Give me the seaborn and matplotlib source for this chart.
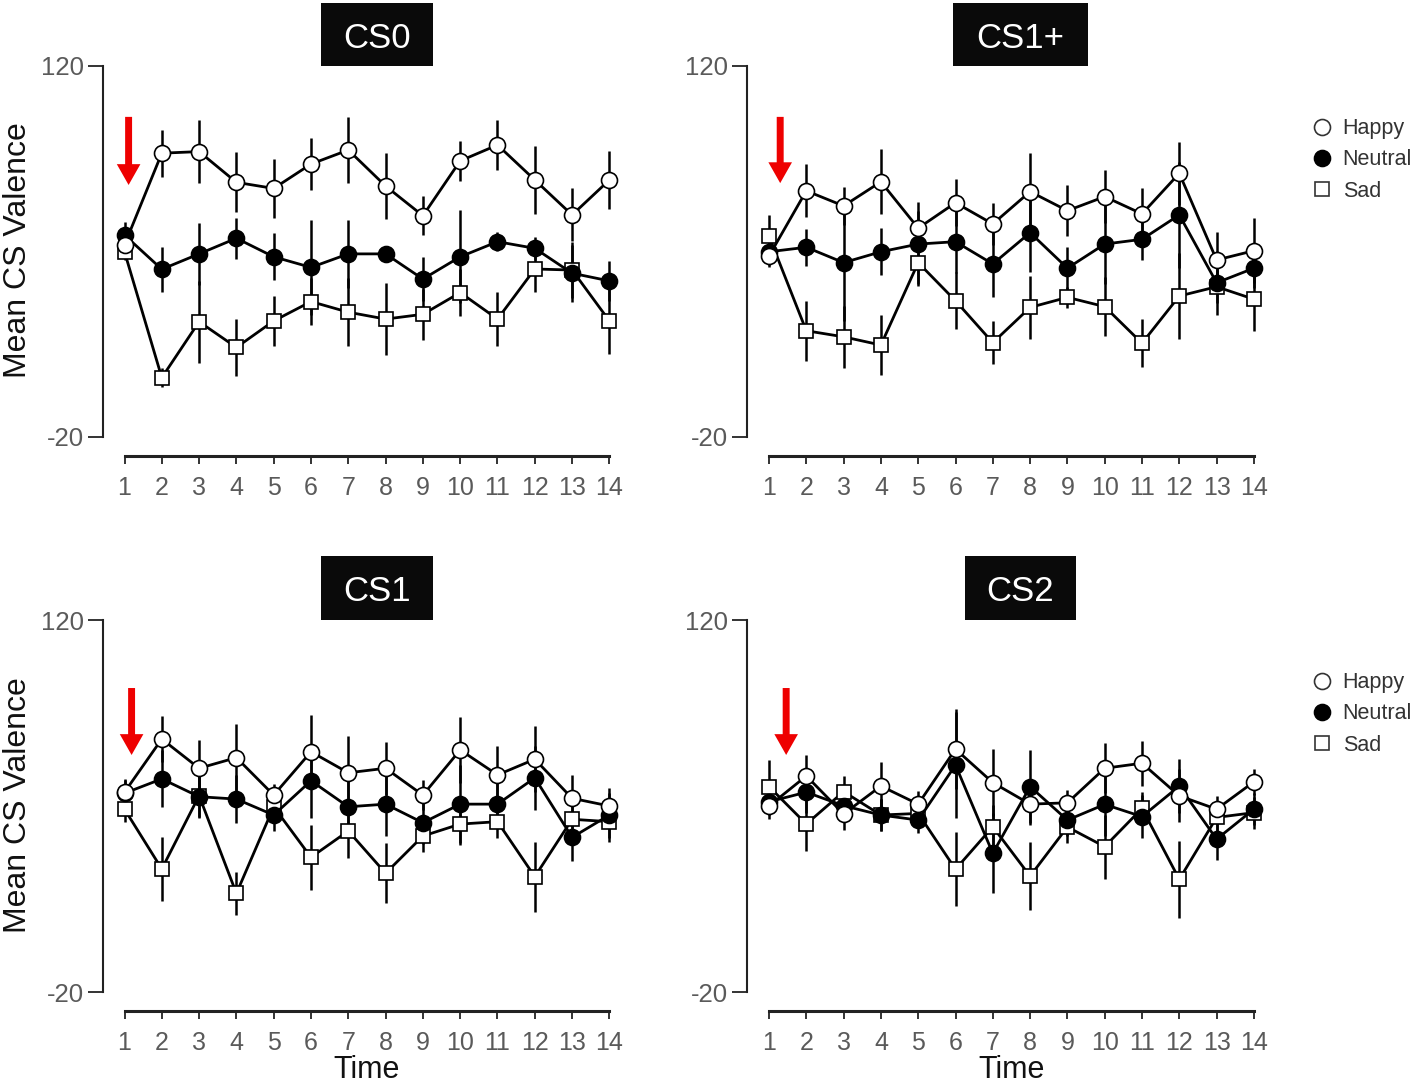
import numpy as np
import pandas as pd
import matplotlib
matplotlib.use("Agg")
import matplotlib.pyplot as plt
from matplotlib.patches import Rectangle
from matplotlib.lines import Line2D
import seaborn as sns

# ---------------- data ----------------
time_points = list(range(1, 15))
panel_titles = ["CS0", "CS1+", "CS1", "CS2"]
series_names = ["Happy", "Neutral", "Sad"]
y_tick_values = [-20, 120]

happy_cs0 = [52.5, 87.1, 87.7, 76.1, 73.8, 83.0, 88.3, 74.7, 63.5, 84.2, 90.2, 77.0, 63.8, 77.0]
happy_cs0_err = [3, 8.8, 11.8, 11.3, 11.1, 9.8, 12.5, 12.6, 7.3, 7.5, 9.3, 12.8, 10, 11]
neutral_cs0 = [56.2, 43.3, 49.1, 55.0, 48.0, 44.0, 49.1, 49.1, 39.6, 48.0, 53.7, 51.2, 41.8, 38.9]
neutral_cs0_err = [5, 8.5, 11.6, 7.7, 8.8, 18, 12.9, 3, 8.2, 17.6, 3.5, 4.4, 10.7, 7.5]
sad_cs0 = [49.9, 2.4, 23.5, 13.8, 23.8, 31.1, 27.1, 24.5, 26.3, 34.5, 24.5, 43.4, 43.0, 23.8]
sad_cs0_err = [3, 3.5, 15.4, 10.7, 9.4, 9, 12.9, 13.5, 9.7, 8.8, 10.3, 8.5, 10.7, 12.6]

happy_cs1p = [48.3, 72.9, 67.2, 76.3, 58.8, 68.4, 60.4, 72.6, 65.4, 70.7, 64.2, 79.5, 46.8, 50.3]
happy_cs1p_err = [4, 10, 7.2, 12.2, 6.6, 8.8, 7.9, 14.5, 9.6, 10, 9.7, 12, 10.4, 12.3]
neutral_cs1p = [49.9, 51.6, 45.8, 49.9, 52.8, 53.7, 45.3, 57.1, 43.7, 52.8, 54.6, 63.8, 38.2, 43.7]
neutral_cs1p_err = [5, 7, 22, 8.8, 15.7, 12, 12.3, 15, 7.9, 15, 7.9, 20, 12, 7.5]
sad_cs1p = [55.8, 20.1, 17.8, 14.7, 45.8, 31.4, 15.6, 28.9, 32.7, 29.2, 15.4, 33.2, 36.7, 32.0]
sad_cs1p_err = [8, 11.3, 11.6, 11.3, 7.9, 10.7, 8.2, 12, 4, 11, 9.1, 16.4, 6.3, 12]

happy_cs1 = [55.2, 75.2, 64.2, 68.2, 54.1, 70.4, 62.5, 64.2, 54.1, 71.1, 61.7, 67.6, 52.9, 50.0]
happy_cs1_err = [5, 8.8, 10.7, 12.5, 4, 14, 14, 10, 5.6, 12.5, 10.7, 12.5, 8.8, 5]
neutral_cs1 = [54.8, 60.2, 53.5, 52.6, 46.6, 59.5, 49.7, 50.7, 43.7, 50.7, 50.7, 60.6, 38.2, 46.6]
neutral_cs1_err = [5, 10.7, 8, 9, 6, 14, 10, 12, 8, 14.7, 9, 12, 9, 10]
sad_cs1 = [48.8, 26.3, 53.9, 17.1, 49.7, 30.7, 40.6, 24.7, 38.7, 43.2, 44.1, 23.4, 45.0, 44.1]
sad_cs1_err = [5, 12.2, 8, 8.2, 6, 12.2, 10, 11.3, 6, 8, 6, 13.2, 6, 6]

happy_cs2 = [50.0, 61.3, 47.0, 57.5, 50.7, 71.4, 58.8, 50.7, 51.2, 64.2, 66.1, 53.8, 48.8, 59.1]
happy_cs2_err = [5, 8, 6, 9, 5, 15, 12.5, 8, 5, 9.4, 8.4, 10, 5, 5]
neutral_cs2 = [51.6, 55.2, 50.1, 46.6, 44.7, 65.4, 32.2, 57.3, 44.7, 50.6, 46.0, 57.5, 37.5, 48.8]
neutral_cs2_err = [5, 8, 5, 6, 5, 20, 15, 13.8, 6, 12, 8, 10, 8, 6]
sad_cs2 = [57.3, 43.2, 55.4, 46.6, 47.2, 26.2, 42.2, 23.6, 42.1, 34.7, 49.1, 22.4, 45.7, 47.5]
sad_cs2_err = [10, 10, 6, 6, 5, 14, 8, 12.8, 6, 12, 6, 14.4, 6, 6]

panel_means = [
    [happy_cs0, neutral_cs0, sad_cs0],
    [happy_cs1p, neutral_cs1p, sad_cs1p],
    [happy_cs1, neutral_cs1, sad_cs1],
    [happy_cs2, neutral_cs2, sad_cs2],
]
panel_errs = [
    [happy_cs0_err, neutral_cs0_err, sad_cs0_err],
    [happy_cs1p_err, neutral_cs1p_err, sad_cs1p_err],
    [happy_cs1_err, neutral_cs1_err, sad_cs1_err],
    [happy_cs2_err, neutral_cs2_err, sad_cs2_err],
]

# ---------------- style ----------------
sns.set_theme(style="ticks")
plt.rcParams["font.family"] = ["Liberation Sans", "DejaVu Sans"]
plt.rcParams["axes.unicode_minus"] = False

W, H = 1417, 1089
fig = plt.figure(figsize=(W / 100, H / 100), dpi=100)

STYLE = {
    "Happy": dict(marker="o", markerfacecolor="white", markersize=11.5),
    "Neutral": dict(marker="o", markerfacecolor="black", markersize=11.5),
    "Sad": dict(marker="s", markerfacecolor="white", markersize=10),
}
ZORDER = {"Happy": 5, "Neutral": 4, "Sad": 3}

px = 37.3  # pixels per time step
xlim = (1 - 21.5 / px, 14 + 0.4)

def fx(p):
    return p / W

def fy(p):
    return 1 - p / H

# axes boxes: (left px of spine, top px (120), bottom px (-20))
boxes = [(103, 66, 437), (747.5, 66, 437), (103, 620, 992), (747.5, 620, 992)]
arrows_x = [1.11, 1.30, 1.19, 1.46]
arrow_y = [(100.8, 75.1), (100.8, 75.8), (94.4, 69.2), (94.4, 69.2)]
title_boxes = [(321, 3, 112, 63), (953, 3, 135, 63), (321, 556, 112, 64), (965, 556, 111, 64)]

width_px = (xlim[1] - xlim[0]) * px
tick_gray = "#5a5a5a"

for i in range(4):
    l, t, b = boxes[i]
    ax = fig.add_axes([fx(l), fy(b), width_px / W, (b - t) / H])
    means = panel_means[i]
    errs = panel_errs[i]
    for name, m, e in zip(series_names, means, errs):
        m = np.array(m)
        e = np.array(e)
        ax.vlines(time_points, m - e, m + e, color="black", lw=1.8, zorder=1)
    for name, m in zip(series_names, means):
        df = pd.DataFrame({"Time": time_points, "Valence": m})
        sns.lineplot(data=df, x="Time", y="Valence", ax=ax, color="black",
                     lw=2, markeredgecolor="black", markeredgewidth=1.2,
                     legend=False, zorder=ZORDER[name], **STYLE[name])
    ax.set_xlim(*xlim)
    ax.set_ylim(-20, 120)
    ax.set_xticks(time_points)
    ax.set_xticklabels([str(t_) for t_ in time_points])
    ax.set_yticks(y_tick_values)
    ax.set_yticklabels([str(v) for v in y_tick_values])
    ax.set_xlabel("")
    ax.set_ylabel("")
    for s in ["top", "right"]:
        ax.spines[s].set_visible(False)
    ax.spines["left"].set_linewidth(1.5)
    ax.spines["left"].set_color("#222222")
    ax.spines["bottom"].set_position(("outward", 14.0))
    ax.spines["bottom"].set_bounds(1, 14)
    ax.spines["bottom"].set_linewidth(2.2)
    ax.spines["bottom"].set_color("#222222")
    ax.tick_params(axis="y", length=11, width=1.4, color="#333333",
                   labelsize=18.5, labelcolor=tick_gray, pad=3)
    ax.tick_params(axis="x", length=6, width=1.4, color="#333333",
                   labelsize=18, labelcolor=tick_gray, pad=8)
    ax.patch.set_alpha(0)
    # red arrow
    ax.annotate("", xy=(arrows_x[i], arrow_y[i][1]), xytext=(arrows_x[i], arrow_y[i][0]),
                arrowprops=dict(arrowstyle="simple,head_width=17,head_length=15,tail_width=5",
                                mutation_scale=1, color="#ee0000", lw=0,
                                shrinkA=0, shrinkB=0))
    # title box
    bx, by, bw, bh = title_boxes[i]
    fig.patches.append(Rectangle((fx(bx), fy(by + bh)), bw / W, bh / H,
                                 transform=fig.transFigure, facecolor="#0a0a0a",
                                 edgecolor="none", zorder=5))
    fig.text(fx(bx + bw / 2), fy(by + bh / 2), panel_titles[i], color="white",
             fontsize=25, ha="center", va="center_baseline", zorder=6)

# y labels
for yc in [250, 805]:
    fig.text(fx(18), fy(yc), "Mean CS Valence", rotation=90, fontsize=23,
             ha="center", va="center", color="#111111")
# x labels
for xc in [367, 1012]:
    fig.text(fx(xc), fy(1070), "Time", fontsize=22, ha="center", va="center",
             color="#111111")

# legends
handles = [Line2D([], [], color="none", markeredgecolor="#333333", markeredgewidth=1.2,
                  **STYLE[n]) for n in series_names]
handles[1].set_markerfacecolor("black")
handles[1].set_markeredgecolor("black")
for top in [99, 653]:
    fig.legend(handles, series_names, loc="upper left",
               bbox_to_anchor=(fx(1292), fy(top)), frameon=False,
               fontsize=15.5, handlelength=1.0, handletextpad=0.45,
               labelspacing=0.47, borderpad=0.4, labelcolor="#333333")

fig.savefig("out.png", dpi=100)
